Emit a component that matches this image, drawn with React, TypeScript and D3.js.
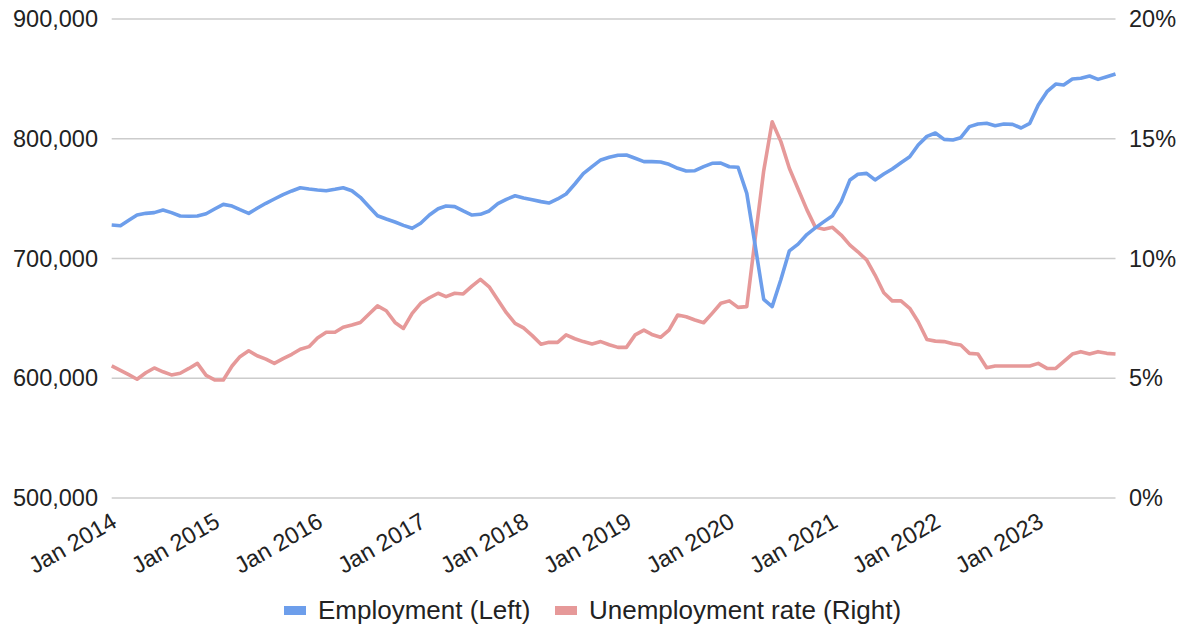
import React from "react";
import * as d3 from "d3";

const START_MONTH = "2013-12";
const employment = [
  728.0, 727.4, 732.1, 736.3, 737.7, 738.3, 740.5, 738.3, 735.5, 735.3,
  735.5, 737.4, 741.3, 745.2, 743.8, 740.8, 737.7, 741.9, 746.1, 749.7,
  753.3, 756.4, 759.1, 758.0, 757.2, 756.6, 757.8, 759.1, 756.6, 751.1,
  743.3, 735.7, 733.0, 730.5, 727.7, 725.2, 729.4, 736.3, 741.6, 743.8,
  743.3, 739.7, 736.3, 736.9, 739.7, 745.8, 749.4, 752.4, 750.5, 749.1,
  747.5, 746.3, 749.7, 753.9, 762.2, 770.8, 776.7, 782.3, 784.5, 786.2,
  786.4, 783.7, 780.9, 780.9, 780.6, 778.7, 775.3, 773.1, 773.3, 776.7,
  779.5, 779.7, 776.6, 776.2, 754.4, 712.0, 665.9, 659.8, 682.5, 706.4,
  712.0, 720.0, 725.6, 730.8, 735.7, 747.5, 765.6, 770.3, 771.1, 765.6,
  770.5, 774.7, 780.0, 785.0, 794.8, 802.0, 804.8, 799.5, 798.9, 800.9,
  810.1, 812.3, 812.9, 810.9, 812.3, 812.0, 809.0, 812.9, 828.2, 839.3,
  845.7, 844.9, 849.9, 850.5, 852.4, 849.6, 851.8, 854.1,
];
const unemployment = [
  5.52, 5.33, 5.14, 4.96, 5.23, 5.43, 5.27, 5.14, 5.21, 5.41,
  5.62, 5.12, 4.93, 4.93, 5.51, 5.9, 6.15, 5.94, 5.8, 5.62,
  5.82, 6.0, 6.21, 6.32, 6.68, 6.92, 6.92, 7.13, 7.22, 7.33,
  7.68, 8.02, 7.82, 7.33, 7.08, 7.71, 8.13, 8.36, 8.55, 8.41,
  8.55, 8.52, 8.85, 9.13, 8.82, 8.27, 7.74, 7.29, 7.1, 6.78,
  6.42, 6.5, 6.5, 6.81, 6.65, 6.53, 6.43, 6.53, 6.4, 6.29,
  6.29, 6.81, 7.01, 6.83, 6.71, 7.01, 7.64, 7.57, 7.43, 7.32,
  7.71, 8.13, 8.23, 7.96, 7.99, 10.77, 13.66, 15.71, 14.88, 13.77,
  12.9, 12.04, 11.31, 11.22, 11.3, 10.98, 10.56, 10.28, 9.94, 9.31,
  8.57, 8.23, 8.23, 7.92, 7.36, 6.62, 6.55, 6.53, 6.44, 6.39,
  6.04, 6.01, 5.44, 5.51, 5.51, 5.51, 5.51, 5.51, 5.62, 5.41,
  5.41, 5.69, 6.01, 6.11, 6.01, 6.11, 6.04, 6.01,
];
const leftTicks = [500000, 600000, 700000, 800000, 900000];
const rightTicks = [0, 0.05, 0.1, 0.15, 0.2];
const xTickYears = [2014, 2015, 2016, 2017, 2018, 2019, 2020, 2021, 2022, 2023];
const seriesNames = ["Employment (Left)", "Unemployment rate (Right)"];
const colors = ["#6d9eeb", "#e69999"];

const W = 1179;
const H = 629;
const FONT = "'Liberation Sans', Arial, sans-serif";

export default function App() {
  const parse = d3.timeParse("%Y-%m");
  const start = parse(START_MONTH) as Date;
  const dates = employment.map((_, i) => d3.timeMonth.offset(start, i));
  const x = d3
    .scaleTime()
    .domain([dates[0], dates[dates.length - 1]])
    .range([111.7, 1115.5]);
  const yL = d3.scaleLinear().domain([500000, 900000]).range([498, 19]);
  const yR = d3.scaleLinear().domain([0, 0.2]).range([498, 19]);

  const empLine = d3
    .line<number>()
    .x((_, i) => x(dates[i]))
    .y((d) => yL(d * 1000));
  const unLine = d3
    .line<number>()
    .x((_, i) => x(dates[i]))
    .y((d) => yR(d / 100));

  const fmtL = d3.format(",");
  const fmtR = d3.format(".0%");
  const fmtX = d3.timeFormat("%b %Y");

  return (
    <svg
      width={W}
      height={H}
      style={{ position: "absolute", left: 0, top: 0, background: "#fff" }}
      fontFamily={FONT}
    >
      <rect x={0} y={0} width={W} height={H} fill="#fff" />
      {leftTicks.map((t) => (
        <line
          key={t}
          x1={111.7}
          x2={1115.5}
          y1={yL(t)}
          y2={yL(t)}
          stroke="#cccccc"
          strokeWidth={1.6}
        />
      ))}
      {leftTicks.map((t) => (
        <text
          key={"l" + t}
          x={98}
          y={yL(t)}
          dy="0.35em"
          textAnchor="end"
          fontSize={23.5}
          fill="#222"
        >
          {fmtL(t)}
        </text>
      ))}
      {rightTicks.map((t) => (
        <text
          key={"r" + t}
          x={1129}
          y={yR(t)}
          dy="0.35em"
          textAnchor="start"
          fontSize={23.5}
          fill="#222"
        >
          {fmtR(t)}
        </text>
      ))}
      {xTickYears.map((yr) => {
        const d = new Date(yr, 0, 1);
        const tx = x(d) - 2;
        return (
          <text
            key={yr}
            transform={`translate(${tx},526) rotate(-30)`}
            textAnchor="end"
            fontSize={23.5}
            fill="#222"
          >
            {fmtX(d)}
          </text>
        );
      })}
      <path
        d={unLine(unemployment) || ""}
        fill="none"
        stroke={colors[1]}
        strokeWidth={3.6}
        strokeLinejoin="round"
      />
      <path
        d={empLine(employment) || ""}
        fill="none"
        stroke={colors[0]}
        strokeWidth={3.6}
        strokeLinejoin="round"
      />
      <g>
        <rect x={284} y={606} width={22} height={9} fill={colors[0]} />
        <text x={318} y={610} dy="0.35em" fontSize={26} fill="#222">
          {seriesNames[0]}
        </text>
        <rect x={555} y={606} width={22} height={9} fill={colors[1]} />
        <text x={589} y={610} dy="0.35em" fontSize={26} fill="#222">
          {seriesNames[1]}
        </text>
      </g>
    </svg>
  );
}
